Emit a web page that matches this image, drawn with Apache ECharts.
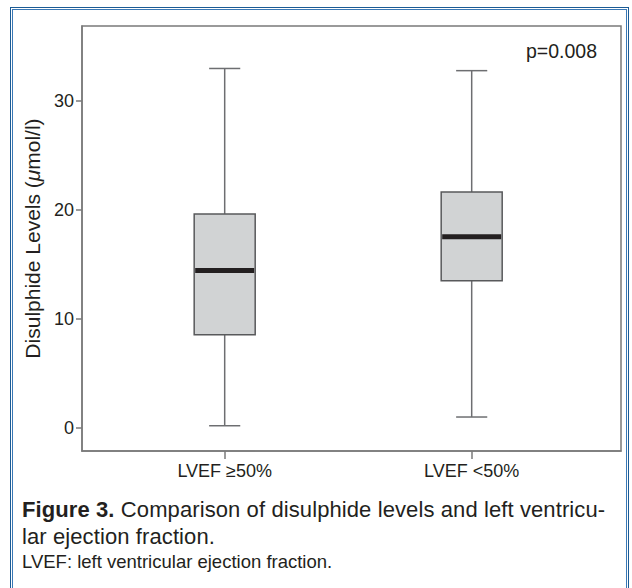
<!DOCTYPE html>
<html>
<head>
<meta charset="utf-8">
<script src="https://cdn.jsdelivr.net/npm/echarts@6/dist/echarts.min.js"></script>
<style>
  html, body { margin: 0; padding: 0; background: #fff; }
  body { width: 632px; height: 588px; position: relative; overflow: hidden; }
  .frame-outer { position: absolute; left: 10px; top: 7px; width: 619px; height: 600px;
    border: 1.5px solid #1b5b95; box-sizing: border-box; }
  .frame-inner { position: absolute; left: 1px; top: 1px; right: 1px; bottom: 1px;
    border: 1px solid #3a78b5; }
  #chart { position: absolute; left: 0; top: 0; width: 632px; height: 588px; }
  .caption { position: absolute; left: 22px; top: 496px; width: 600px;
    font-family: "Liberation Sans", Arial, sans-serif; color: #231f20; }
  .caption .main { font-size: 22px; line-height: 27px; letter-spacing: 0.1px; }
  .caption .note { font-size: 18.5px; line-height: 24px; }
</style>
</head>
<body>
<div class="frame-outer"><div class="frame-inner"></div></div>
<div id="chart"></div>
<div class="caption">
  <div class="main"><b>Figure 3.</b> Comparison of disulphide levels and left ventricu-<br>lar ejection fraction.</div>
  <div class="note">LVEF: left ventricular ejection fraction.</div>
</div>
<script>
var categories = ['LVEF ≥50%', 'LVEF <50%'];
var whiskerLow = [0.2, 1.0];
var q1 = [8.55, 13.5];
var median = [14.45, 17.55];
var q3 = [19.65, 21.65];
var whiskerHigh = [33.0, 32.8];
var yTicks = [0, 10, 20, 30];

var chart = echarts.init(document.getElementById('chart'), null, { renderer: 'svg' });

var boxData = categories.map(function (c, i) {
    return [i + 1, whiskerLow[i], q1[i], median[i], q3[i], whiskerHigh[i]];
});

function renderBox(params, api) {
    var x = api.value(0);
    var band = api.size([1, 0])[0];
    var half = band * 0.1235;
    var capHalf = band * 0.063;
    var pLow = api.coord([x, api.value(1)]);
    var pQ1 = api.coord([x, api.value(2)]);
    var pMed = api.coord([x, api.value(3)]);
    var pQ3 = api.coord([x, api.value(4)]);
    var pHigh = api.coord([x, api.value(5)]);
    var whisker = { stroke: '#6d6e71', lineWidth: 1.5 };
    return {
        type: 'group',
        children: [
            { type: 'line', shape: { x1: pHigh[0], y1: pHigh[1], x2: pQ3[0], y2: pQ3[1] }, style: whisker },
            { type: 'line', shape: { x1: pLow[0], y1: pLow[1], x2: pQ1[0], y2: pQ1[1] }, style: whisker },
            { type: 'line', shape: { x1: pHigh[0] - capHalf, y1: pHigh[1], x2: pHigh[0] + capHalf, y2: pHigh[1] }, style: whisker },
            { type: 'line', shape: { x1: pLow[0] - capHalf, y1: pLow[1], x2: pLow[0] + capHalf, y2: pLow[1] }, style: whisker },
            { type: 'rect', shape: { x: pQ3[0] - half, y: pQ3[1], width: half * 2, height: pQ1[1] - pQ3[1] },
              style: { fill: '#d1d3d4', stroke: '#58595b', lineWidth: 1.5 } },
            { type: 'line', shape: { x1: pMed[0] - half + 1, y1: pMed[1], x2: pMed[0] + half - 1, y2: pMed[1] },
              style: { stroke: '#231f20', lineWidth: 5 } }
        ]
    };
}

var option = {
    animation: false,
    textStyle: { fontFamily: '"Liberation Sans", Arial, sans-serif' },
    title: {
        text: 'p=0.008',
        right: 30,
        top: 36,
        textStyle: { fontSize: 19.5, fontWeight: 'normal', color: '#231f20' }
    },
    grid: {
        left: 82, right: 11, top: 26, bottom: 137,
        show: true, borderColor: '#7a7a7a', borderWidth: 1.5
    },
    xAxis: {
        type: 'value',
        min: 0.4223,
        max: 2.6045,
        splitLine: { show: false },
        axisLine: { show: true, onZero: false, lineStyle: { color: '#7a7a7a', width: 1.5 } },
        axisTick: { show: true, length: 8, customValues: [1, 2], lineStyle: { color: '#7a7a7a', width: 1.5 } },
        axisLabel: {
            customValues: [1, 2],
            margin: 11,
            fontSize: 18,
            color: '#231f20',
            formatter: function (v) { return categories[Math.round(v) - 1]; }
        }
    },
    yAxis: {
        type: 'value',
        min: -2.12,
        max: 36.9,
        name: 'Disulphide Levels ({it|μ}mol/l)',
        nameLocation: 'middle',
        nameGap: 37,
        nameTextStyle: {
            fontSize: 21, color: '#231f20',
            rich: { it: { fontSize: 21, fontStyle: 'italic', color: '#231f20' } }
        },
        splitLine: { show: false },
        axisLine: { show: true, onZero: false, lineStyle: { color: '#7a7a7a', width: 1.5 } },
        axisTick: { show: true, length: 6, customValues: yTicks, lineStyle: { color: '#7a7a7a', width: 1.5 } },
        axisLabel: {
            customValues: yTicks,
            margin: 8,
            fontSize: 18,
            color: '#231f20'
        }
    },
    series: [{
        type: 'custom',
        renderItem: renderBox,
        data: boxData,
        encode: { x: 0, y: [1, 2, 3, 4, 5] }
    }]
};

chart.setOption(option);
</script>
</body>
</html>
